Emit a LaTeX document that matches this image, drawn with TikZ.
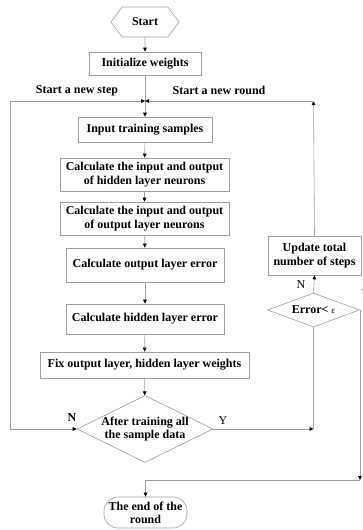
\documentclass[tikz,border=0pt]{standalone}
\usepackage{fontspec}
\setmainfont{Liberation Serif}
\usetikzlibrary{shapes.geometric, shapes.symbols, arrows.meta}

\tikzset{
  box/.style={draw=gray!75, line width=0.6pt, fill=white, align=center, inner sep=1pt,
    font=\bfseries\fontsize{12}{13.3}\selectfont},
  flow/.style={draw=gray!75, line width=0.6pt},
  lbl/.style={inner sep=1pt, font=\bfseries\fontsize{12}{13}\selectfont},
  plainlbl/.style={inner sep=1pt, font=\fontsize{12}{13}\selectfont},
}

\begin{document}
\begin{tikzpicture}[x=1pt, y=-1pt, >={Triangle[length=4pt, width=3.6pt, color=black]}]
  \useasboundingbox (0,0) rectangle (362,530);
  % main column
  \node[box, shape=signal, signal to=west and east, signal pointer angle=107,
    minimum width=68pt, minimum height=30pt] (start) at (145,22) {Start};
  \node[box, minimum width=112pt, minimum height=23pt] (init) at (145,63.5) {Initialize weights};
  \coordinate (j) at (145,101);
  \node[box, minimum width=134pt, minimum height=25pt] (input) at (145,129.5) {Input training samples};
  \node[box, minimum width=169pt, minimum height=33pt] (hidio) at (144.5,174.5)
    {Calculate the input and output\\of hidden layer neurons};
  \node[box, minimum width=169pt, minimum height=33pt] (outio) at (144.5,218.5)
    {Calculate the input and output\\of output layer neurons};
  \node[box, minimum width=158pt, minimum height=34pt] (outerr) at (145,265) {Calculate output layer error};
  \node[box, minimum width=158pt, minimum height=30pt] (hiderr) at (145,319) {Calculate hidden layer error};
  \node[box, minimum width=209pt, minimum height=26pt] (fix) at (144.5,365) {Fix output layer, hidden layer weights};
  \node[box, diamond, aspect=2, inner sep=-1pt, minimum width=136pt, minimum height=67pt]
    (after) at (145,429) {After training all\\the sample data};
  \node[box, rounded corners=14pt, minimum width=83pt, minimum height=31pt]
    (end) at (145.5,512.5) {The end of the\\round};
  % right column
  \node[box, minimum width=93pt, minimum height=39pt] (update) at (314.5,255.5) {Update total\\number of steps};
  \node[box, diamond, aspect=2.7, inner sep=0pt, minimum width=92pt, minimum height=34pt]
    (err) at (313.5,310) {Error< {\mdseries\fontsize{9}{9}\selectfont ε}};
  % corners of the loops
  \coordinate (lft) at (10,429);
  \coordinate (rt) at (313.5,101);
  \coordinate (ymeet) at (313.5,429);
  \coordinate (rb) at (360,480);
  % connectors
  \draw[flow, ->] (start) -- (init);
  \draw[flow] (init) -- (j);
  \draw[flow, ->] (j) -- (input);
  \draw[flow, ->] (input) -- (hidio);
  \draw[flow, ->] (hidio) -- (outio);
  \draw[flow, ->] (outio) -- (outerr);
  \draw[flow, ->] (outerr) -- (hiderr);
  \draw[flow, ->] (hiderr) -- (fix);
  \draw[flow, ->] (fix) -- (after);
  \draw[flow, <->] (after.west) -- (lft) |- (j);
  \draw[flow, ->] (after.east) -- (ymeet);
  \draw[flow] (err.south) -- (ymeet);
  \draw[flow, ->] (err.north) -- (update.south);
  \draw[flow, ->] (update.north) -- (rt);
  \draw[flow, ->] (rt) -- (j);
  \draw[flow, ->] (err.east) -| (rb);
  \draw[flow, ->] (rb) -| (end.north);
  % labels
  \node[lbl] (newstep) at (77,91) {Start a new step};
  \node[lbl] (newround) at (219,90) {Start a new round};
  \node[lbl] (nafter) at (72,418) {N};
  \node[plainlbl] (yafter) at (223,421) {Y};
  \node[plainlbl] (nerr) at (301,285) {N};
  \node[plainlbl] (yerr) at (366,294) {Y};
\end{tikzpicture}
\end{document}
